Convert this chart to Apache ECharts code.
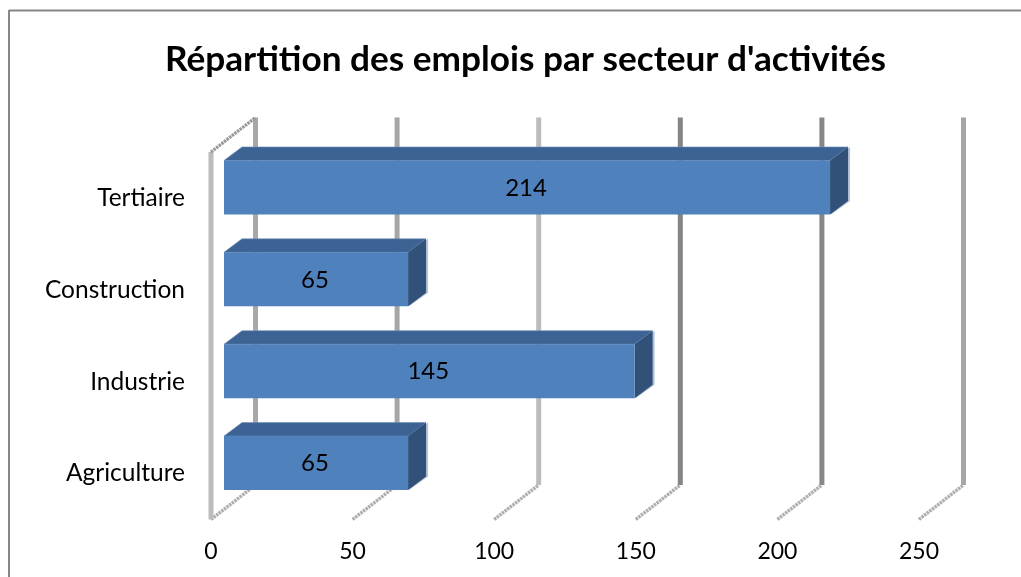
<!DOCTYPE html>
<html>
<head>
<meta charset="utf-8">
<style>html,body{margin:0;padding:0;background:#fff}#c{width:1021px;height:577px}</style>
<script src="https://cdn.jsdelivr.net/npm/echarts@6/dist/echarts.min.js"></script>
</head>
<body>
<div id="c"></div>
<script>
const titleText = "Répartition des emplois par secteur d'activités";
const categories = ['Agriculture', 'Industrie', 'Construction', 'Tertiaire'];
const values = [65, 145, 65, 214];
const tickValues = [0, 50, 100, 150, 200, 250];
const tickColors = ['#a8a8a8', '#a6a6a6', '#bcbcbc', '#858585', '#878787', '#a6a6a6'];

const FONT = 'Lato';
const chart = echarts.init(document.getElementById('c'), null, {renderer: 'canvas'});

// oblique projection: front floor plane -> bar front / bar back / rear wall
const WALL_DX = 44.5, WALL_DY = -34.5;
const BAR_DX = 13, BAR_DY = -10.5, DEPTH_DX = 18, DEPTH_DY = -13.5;
const BAR_H = 54;

function renderWall(params, api) {
  const v = api.value(0), i = params.dataIndex;
  const cs = params.coordSys;
  const x = api.coord([v, 0])[0];
  const bottom = cs.y + cs.height, top = cs.y;
  const color = tickColors[i];
  const children = [
    {type: 'line', shape: {x1: x, y1: bottom, x2: x + WALL_DX, y2: bottom + WALL_DY},
     style: {stroke: '#aeaeae', lineWidth: 3.4, lineDash: [2.5, 0.8]}},
    {type: 'rect', shape: {x: x + WALL_DX - 2.5, y: top + WALL_DY, width: 5, height: cs.height},
     style: {fill: color}}
  ];
  if (i === 0) {
    children.push(
      {type: 'rect', shape: {x: x - 2.5, y: top, width: 5, height: cs.height}, style: {fill: '#bcbcbc'}},
      {type: 'line', shape: {x1: x, y1: top, x2: x + WALL_DX, y2: top + WALL_DY},
       style: {stroke: '#989898', lineWidth: 3.2, lineDash: [2.5, 0.8]}}
    );
  }
  return {type: 'group', children};
}

function renderBar(params, api) {
  const p0 = api.coord([0, api.value(1)]);
  const p1 = api.coord([api.value(0), api.value(1)]);
  const x0 = p0[0] + BAR_DX, x1 = p1[0] + BAR_DX;
  const yT = p0[1] + BAR_DY - BAR_H / 2, yB = yT + BAR_H;
  const d = DEPTH_DX, e = DEPTH_DY;
  return {type: 'group', children: [
    {type: 'polygon', shape: {points: [[x1 + 1, yT], [x1 + d + 2, yT + e], [x1 + d + 2, yB + e], [x1 + 1, yB]]}, style: {fill: '#b4c4da'}},
    {type: 'polygon', shape: {points: [[x0, yT], [x0 + d, yT + e], [x1 + d, yT + e], [x1, yT]]}, style: {fill: '#3c6393', stroke: '#6e8fb8', lineWidth: 0.6}},
    {type: 'polygon', shape: {points: [[x1, yT], [x1 + d, yT + e], [x1 + d, yB + e], [x1, yB]]}, style: {fill: '#315179'}},
    {type: 'rect', shape: {x: x0, y: yT, width: x1 - x0, height: BAR_H}, style: {fill: '#4f81bd'}},
    {type: 'text', style: {text: String(api.value(0)), x: (x0 + x1) / 2 - 1, y: (yT + yB) / 2 + 0.5,
      align: 'center', verticalAlign: 'middle', fill: '#000', font: '24px ' + FONT}}
  ]};
}

chart.setOption({
  animation: false,
  backgroundColor: '#fff',
  title: {text: titleText, left: 520.5, top: 37, textAlign: 'center',
    textStyle: {fontFamily: FONT, fontWeight: 'bold', fontSize: 35.2, color: '#000'}},
  grid: {left: 211, top: 152, width: 708, height: 367.5, containLabel: false},
  xAxis: {type: 'value', min: 0, max: 250, interval: 50,
    axisLine: {show: false}, axisTick: {show: false}, splitLine: {show: false},
    axisLabel: {margin: 21, color: '#000', fontFamily: FONT, fontSize: 23}},
  yAxis: {type: 'category', data: categories,
    axisLine: {show: false}, axisTick: {show: false}, splitLine: {show: false},
    axisLabel: {margin: 26, color: '#000', fontFamily: FONT, fontSize: 24.5}},
  series: [
    {type: 'custom', coordinateSystem: 'cartesian2d', renderItem: renderWall, clip: false, z: 1,
      silent: true, encode: {x: 0}, data: tickValues.map(v => [v])},
    {type: 'custom', coordinateSystem: 'cartesian2d', renderItem: renderBar, clip: false, z: 2,
      silent: true, encode: {x: 0, y: 1}, data: values.map((v, i) => [v, i])}
  ],
  graphic: [
    {type: 'line', silent: true, shape: {x1: 9, y1: 10.5, x2: 1021, y2: 10.5}, style: {stroke: '#868686', lineWidth: 2}},
    {type: 'line', silent: true, shape: {x1: 9, y1: 10, x2: 9, y2: 577}, style: {stroke: '#868686', lineWidth: 2}}
  ]
});
</script>
</body>
</html>
